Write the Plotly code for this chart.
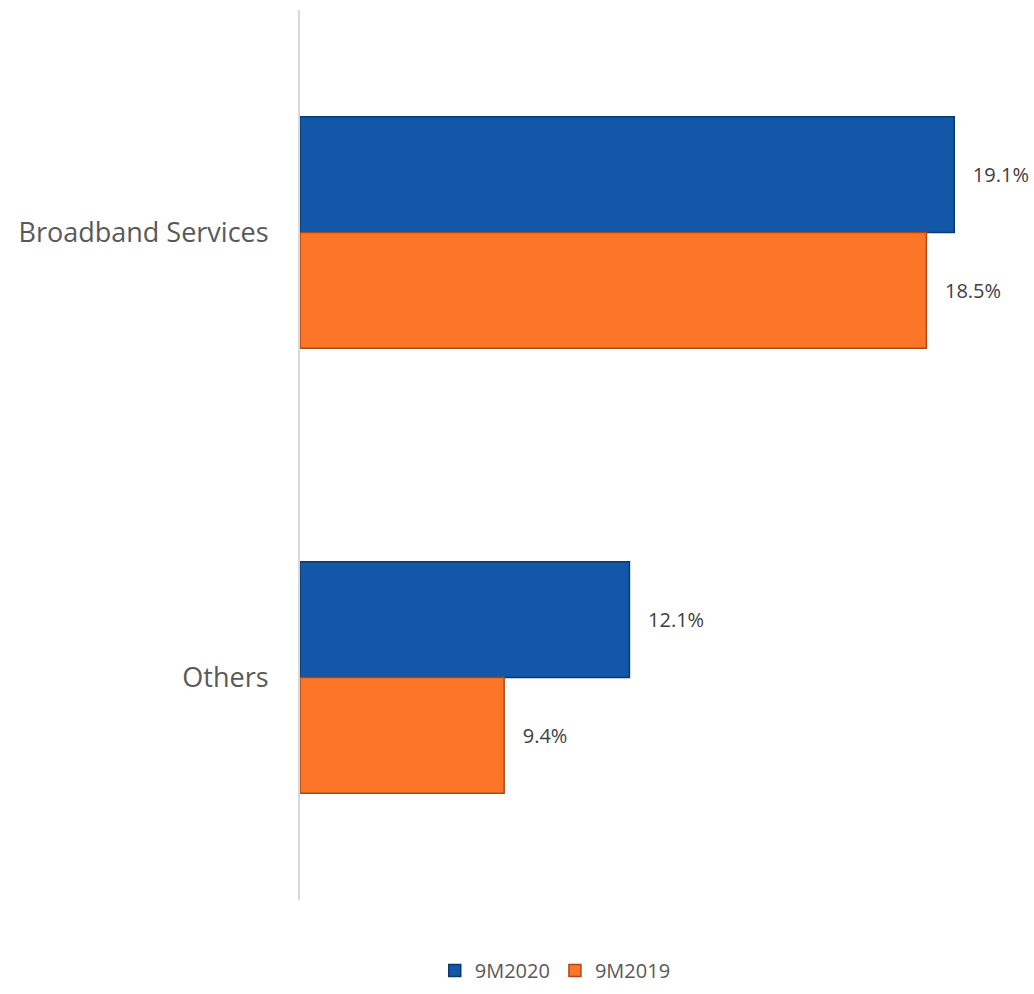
import plotly.graph_objects as go

categories = ["Broadband Services", "Others"]
series_names = ["9M2020", "9M2019"]
values_2020 = [19.1, 12.1]
values_2019 = [18.5, 9.4]
colors = ["#1257A8", "#FD7628"]
edge_colors = ["#0B3A72", "#A84A17"]
axis_min = 5

fig = go.Figure()
for name, vals, col, edge in zip(series_names, [values_2020, values_2019], colors, edge_colors):
    fig.add_trace(go.Bar(
        y=categories, x=[v - axis_min for v in vals], base=axis_min,
        name=name, orientation="h",
        marker=dict(color=col, line=dict(color=edge, width=1.5)),
        text=[f"   {v:.1f}%" for v in vals], textposition="outside",
        constraintext="none",
        textfont=dict(size=20, color="#404040", family="Open Sans"),
        cliponaxis=False,
    ))

fig.update_layout(
    width=1034, height=994,
    margin=dict(l=300, r=38, t=10, b=94),
    plot_bgcolor="white", paper_bgcolor="white",
    barmode="group", bargap=0.48, bargroupgap=0,
    font=dict(family="Open Sans", color="#595959"),
    showlegend=True,
    legend=dict(orientation="h", xref="container", yref="container",
                x=0.537, xanchor="center", y=0.004, yanchor="bottom",
                font=dict(size=20, color="#595959"), itemwidth=30,
                tracegroupgap=0),
)
fig.update_xaxes(range=[axis_min, 20], visible=False)
fig.update_yaxes(autorange="reversed", showline=True, linecolor="#D9D9D9", linewidth=2,
                 ticks="", tickfont=dict(size=27, color="#595959"),
                 ticklabelstandoff=24, showgrid=False)
fig.write_html("out.html")
